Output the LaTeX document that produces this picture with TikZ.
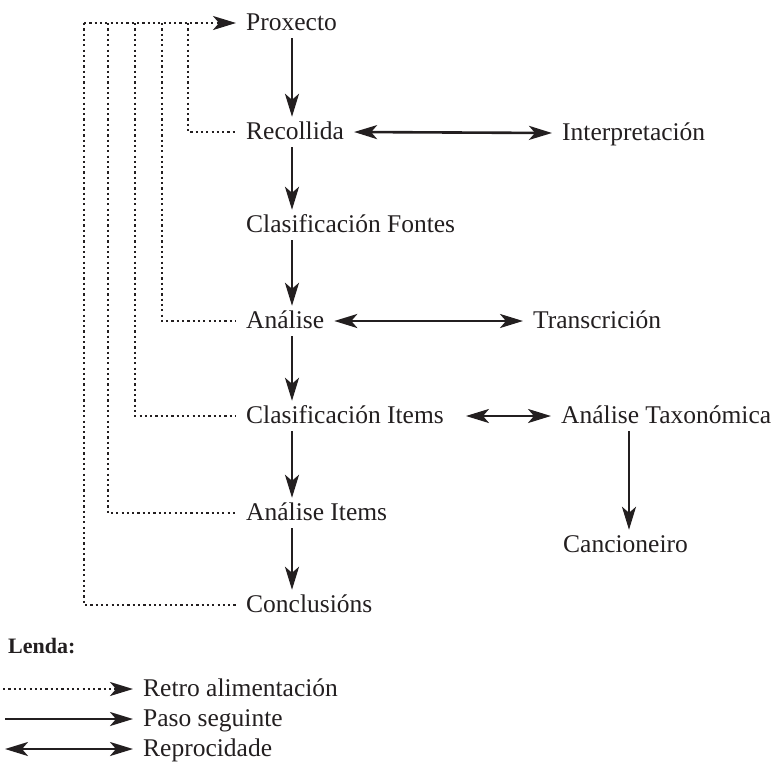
\documentclass[tikz,border=0pt]{standalone}
\usepackage{fontspec}
\setmainfont{Liberation Serif}
\usetikzlibrary{arrows.meta}
\definecolor{ink}{HTML}{231F20}
\begin{document}
\begin{tikzpicture}[x=1pt,y=-1pt,
  headtip/.tip={Stealth[length=23pt,width=14pt,inset=6pt]},
  lbl/.style={anchor=west, inner xsep=10pt, inner ysep=0pt, text height=22pt, text depth=8pt,
    font=\fontsize{25.5}{30}\selectfont, text=ink},
  steparrow/.style={draw=ink, line width=2.6pt, -headtip},
  recip/.style={draw=ink, line width=2.6pt, headtip-headtip},
  fb/.style={draw=ink, line width=2.2pt, dash pattern=on 2.2pt off 3.1pt},
  fbarrow/.style={fb, -headtip}
]
\useasboundingbox (0,0) rectangle (776,761);

% main column
\node[lbl] (prox) at (236,23) {Proxecto};
\node[lbl] (rec)  at (236,132) {Recollida};
\node[lbl] (clf)  at (236,225) {Clasificación Fontes};
\node[lbl] (ana)  at (236,321) {Análise};
\node[lbl] (cli)  at (236,416) {Clasificación Items};
\node[lbl] (anai) at (236,513) {Análise Items};
\node[lbl] (conc) at (236,605) {Conclusións};

% right column
\node[lbl] (interp) at (552,133) {Interpretación};
\node[lbl] (trans)  at (523,321) {Transcrición};
\node[lbl] (tax)    at (551,416) {Análise Taxonómica};
\node[lbl] (canc)   at (553,545) {Cancioneiro};

\coordinate (colx) at (292,0);
\coordinate (tcol) at (629,0);

% next-step arrows
\draw[steparrow] (prox.south -| colx) -- (rec.north -| colx);
\draw[steparrow] (rec.south -| colx) -- (clf.north -| colx);
\draw[steparrow] (clf.south -| colx) -- (ana.north -| colx);
\draw[steparrow] (ana.south -| colx) -- (cli.north -| colx);
\draw[steparrow] (cli.south -| colx) -- (anai.north -| colx);
\draw[steparrow] (anai.south -| colx) -- (conc.north -| colx);
\draw[steparrow] (tax.south -| tcol) -- (canc.north -| tcol);

% reciprocity arrows
\draw[recip] (rec.east) -- (interp.west);
\draw[recip] (ana.east) -- (trans.west);
\draw[recip] ([xshift=12pt]cli.east) -- (tax.west);

% feedback lines
\coordinate (f1) at (84,23);
\coordinate (f2) at (108,23);
\coordinate (f3) at (135,23);
\coordinate (f4) at (162,23);
\coordinate (f5) at (188,23);
\draw[fbarrow] (f1) -- (prox.west);
\draw[fb] (f1) |- (conc.west);
\draw[fb] (f2) |- (anai.west);
\draw[fb] (f3) |- (cli.west);
\draw[fb] (f4) |- (ana.west);
\draw[fb] (f5) |- (rec.west);

% legend
\node[anchor=base west, inner sep=0pt, font=\fontsize{22}{25}\selectfont\bfseries, text=ink] (lenda) at (8,653) {Lenda:};
\node[lbl] (lretro) at (133,689) {Retro alimentación};
\node[lbl] (lpaso)  at (133,719) {Paso seguinte};
\node[lbl] (lrepro) at (133,749) {Reprocidade};
\coordinate (s1) at (3,689);
\coordinate (s2) at (5,719);
\coordinate (s3) at (5,749);
\draw[fbarrow] (s1) -- (lretro.west);
\draw[steparrow] (s2) -- (lpaso.west);
\draw[recip] (s3) -- (lrepro.west);
\end{tikzpicture}
\end{document}
